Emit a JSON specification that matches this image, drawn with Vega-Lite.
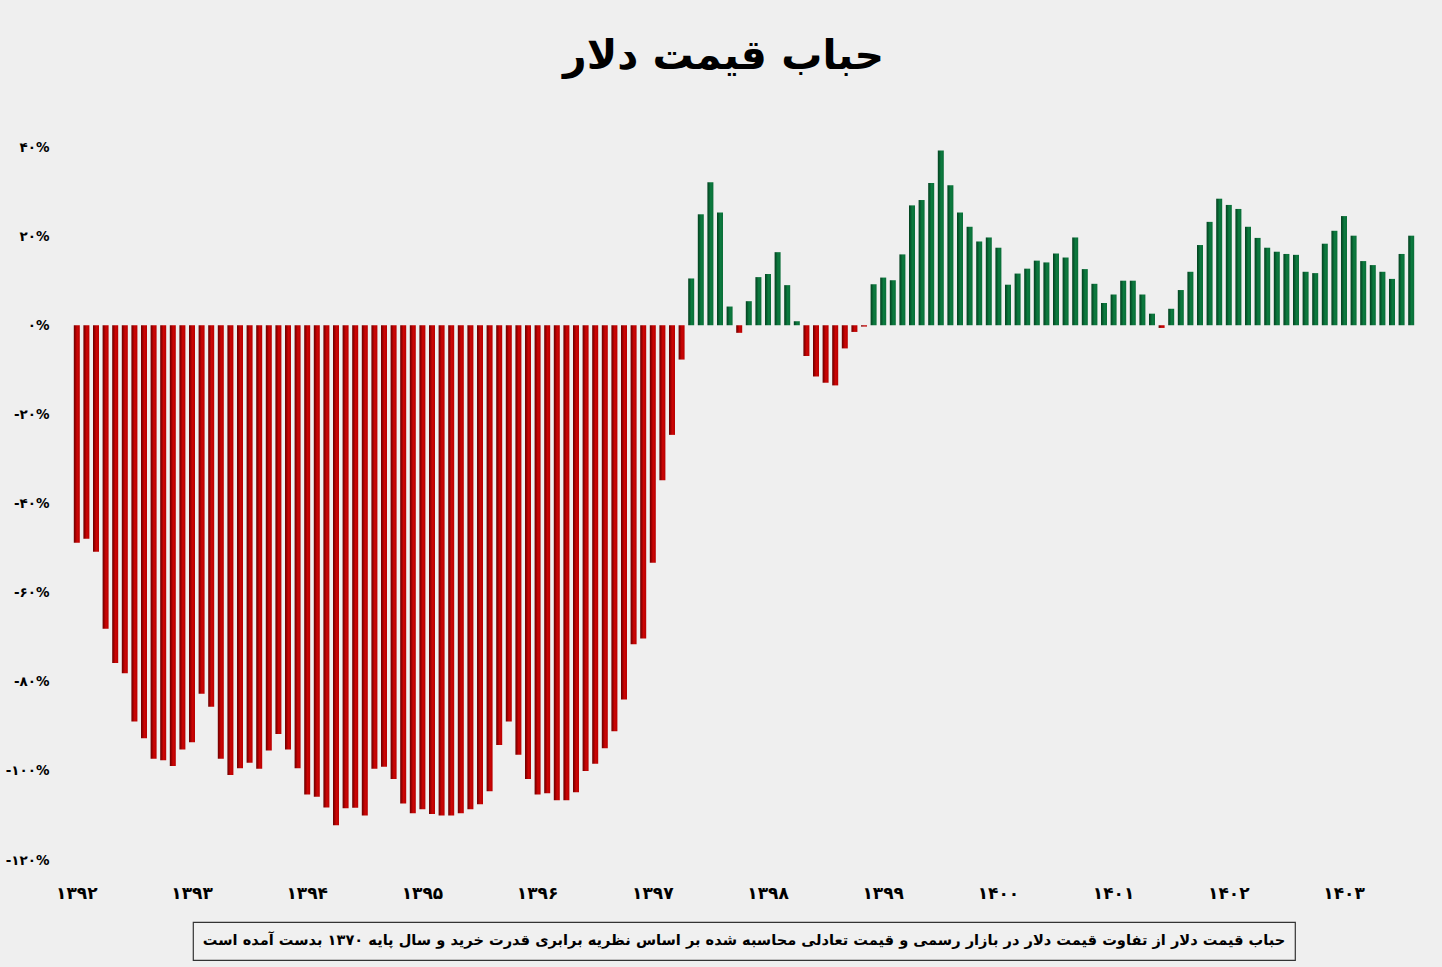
{
"$schema": "https://vega.github.io/schema/vega-lite/v6.json",
"autosize": {"type": "pad"},
"padding": {"left": 5, "top": 36, "right": 29, "bottom": 9},
"background": "#efefef",
"title": {"text": "حباب قیمت دلار", "font": "DejaVu Sans", "fontSize": 41, "fontWeight": "bold", "color": "#000000", "anchor": "middle", "offset": 62, "dx": 13},
"config": {"view": {"stroke": null}, "font": "DejaVu Sans"},
"spacing": 62,
"bounds": "flush",
"center": true,
"vconcat": [
{
"width": 1344,
"height": 713,
"data": {"values": [
{"t":"1392-01","v":-48.8},{"t":"1392-02","v":-47.9},{"t":"1392-03","v":-50.8},{"t":"1392-04","v":-68.1},{"t":"1392-05","v":-75.8},{"t":"1392-06","v":-78.1},{"t":"1392-07","v":-88.9},{"t":"1392-08","v":-92.7},{"t":"1392-09","v":-97.3},{"t":"1392-10","v":-97.6},{"t":"1392-11","v":-98.9},{"t":"1392-12","v":-95.2},
{"t":"1393-01","v":-93.6},{"t":"1393-02","v":-82.7},{"t":"1393-03","v":-85.6},{"t":"1393-04","v":-97.3},{"t":"1393-05","v":-100.9},{"t":"1393-06","v":-99.4},{"t":"1393-07","v":-98.2},{"t":"1393-08","v":-99.5},{"t":"1393-09","v":-95.4},{"t":"1393-10","v":-91.7},{"t":"1393-11","v":-95.2},{"t":"1393-12","v":-99.4},
{"t":"1394-01","v":-105.3},{"t":"1394-02","v":-105.8},{"t":"1394-03","v":-108.2},{"t":"1394-04","v":-112.2},{"t":"1394-05","v":-108.4},{"t":"1394-06","v":-108.3},{"t":"1394-07","v":-110.0},{"t":"1394-08","v":-99.5},{"t":"1394-09","v":-99.1},{"t":"1394-10","v":-101.8},{"t":"1394-11","v":-107.3},{"t":"1394-12","v":-109.5},
{"t":"1395-01","v":-108.6},{"t":"1395-02","v":-109.7},{"t":"1395-03","v":-110.0},{"t":"1395-04","v":-110.0},{"t":"1395-05","v":-109.5},{"t":"1395-06","v":-108.6},{"t":"1395-07","v":-107.5},{"t":"1395-08","v":-104.6},{"t":"1395-09","v":-94.2},{"t":"1395-10","v":-88.9},{"t":"1395-11","v":-96.4},{"t":"1395-12","v":-101.8},
{"t":"1396-01","v":-105.3},{"t":"1396-02","v":-105.0},{"t":"1396-03","v":-106.6},{"t":"1396-04","v":-106.6},{"t":"1396-05","v":-104.8},{"t":"1396-06","v":-100.0},{"t":"1396-07","v":-98.4},{"t":"1396-08","v":-94.9},{"t":"1396-09","v":-91.1},{"t":"1396-10","v":-84.0},{"t":"1396-11","v":-71.6},{"t":"1396-12","v":-70.3},
{"t":"1397-01","v":-53.3},{"t":"1397-02","v":-34.8},{"t":"1397-03","v":-24.6},{"t":"1397-04","v":-7.7},{"t":"1397-05","v":10.5},{"t":"1397-06","v":24.9},{"t":"1397-07","v":32.1},{"t":"1397-08","v":25.3},{"t":"1397-09","v":4.2},{"t":"1397-10","v":-1.7},{"t":"1397-11","v":5.4},{"t":"1397-12","v":10.8},
{"t":"1398-01","v":11.5},{"t":"1398-02","v":16.4},{"t":"1398-03","v":9.0},{"t":"1398-04","v":0.9},{"t":"1398-05","v":-6.9},{"t":"1398-06","v":-11.5},{"t":"1398-07","v":-12.9},{"t":"1398-08","v":-13.5},{"t":"1398-09","v":-5.2},{"t":"1398-10","v":-1.5},{"t":"1398-11","v":-0.3},{"t":"1398-12","v":9.2},
{"t":"1399-01","v":10.7},{"t":"1399-02","v":10.1},{"t":"1399-03","v":15.9},{"t":"1399-04","v":26.9},{"t":"1399-05","v":28.1},{"t":"1399-06","v":31.9},{"t":"1399-07","v":39.2},{"t":"1399-08","v":31.4},{"t":"1399-09","v":25.3},{"t":"1399-10","v":22.1},{"t":"1399-11","v":18.8},{"t":"1399-12","v":19.7},
{"t":"1400-01","v":17.4},{"t":"1400-02","v":9.1},{"t":"1400-03","v":11.6},{"t":"1400-04","v":12.7},{"t":"1400-05","v":14.5},{"t":"1400-06","v":14.1},{"t":"1400-07","v":16.1},{"t":"1400-08","v":15.2},{"t":"1400-09","v":19.7},{"t":"1400-10","v":12.6},{"t":"1400-11","v":9.3},{"t":"1400-12","v":5.0},
{"t":"1401-01","v":6.9},{"t":"1401-02","v":10.0},{"t":"1401-03","v":10.0},{"t":"1401-04","v":6.9},{"t":"1401-05","v":2.6},{"t":"1401-06","v":-0.6},{"t":"1401-07","v":3.7},{"t":"1401-08","v":7.9},{"t":"1401-09","v":12.0},{"t":"1401-10","v":18.0},{"t":"1401-11","v":23.2},{"t":"1401-12","v":28.4},
{"t":"1402-01","v":27.0},{"t":"1402-02","v":26.1},{"t":"1402-03","v":22.1},{"t":"1402-04","v":19.6},{"t":"1402-05","v":17.4},{"t":"1402-06","v":16.5},{"t":"1402-07","v":16.0},{"t":"1402-08","v":15.8},{"t":"1402-09","v":12.0},{"t":"1402-10","v":11.7},{"t":"1402-11","v":18.3},{"t":"1402-12","v":21.2},
{"t":"1403-01","v":24.5},{"t":"1403-02","v":20.1},{"t":"1403-03","v":14.4},{"t":"1403-04","v":13.5},{"t":"1403-05","v":12.0},{"t":"1403-06","v":10.4},{"t":"1403-07","v":16.0},{"t":"1403-08","v":20.1}
]},
"encoding": {
"x": {"field": "t", "type": "ordinal", "scale": {"paddingInner": 0.375, "paddingOuter": 0.1875},
"axis": {"title": null, "values": ["1392-01","1393-01","1394-01","1395-01","1396-01","1397-01","1398-01","1399-01","1400-01","1401-01","1402-01","1403-01"],
"labelExpr": "replace(replace(replace(replace(replace(replace(replace(replace(replace(replace(slice(datum.value,0,4),regexp('0','g'),'۰'),regexp('1','g'),'۱'),regexp('2','g'),'۲'),regexp('3','g'),'۳'),regexp('4','g'),'۴'),regexp('5','g'),'۵'),regexp('6','g'),'۶'),regexp('7','g'),'۷'),regexp('8','g'),'۸'),regexp('9','g'),'۹')",
"labelAngle": 0, "ticks": false, "domain": false, "grid": false, "labelFont": "DejaVu Sans", "labelFontSize": 17, "labelFontWeight": "bold", "labelColor": "#000000", "labelPadding": 25}},
"y": {"field": "v", "type": "quantitative", "scale": {"domain": [-120, 40], "nice": false},
"axis": {"title": null, "values": [-120,-100,-80,-60,-40,-20,0,20,40],
"labelExpr": "(datum.value < 0 ? '-' : '') + replace(replace(replace(replace(replace(replace(replace(replace(replace(replace(format(abs(datum.value),'d'),regexp('0','g'),'۰'),regexp('1','g'),'۱'),regexp('2','g'),'۲'),regexp('3','g'),'۳'),regexp('4','g'),'۴'),regexp('5','g'),'۵'),regexp('6','g'),'۶'),regexp('7','g'),'۷'),regexp('8','g'),'۸'),regexp('9','g'),'۹') + '%'",
"ticks": false, "domain": false, "grid": false, "labelFont": "DejaVu Sans", "labelFontSize": 13.5, "labelFontWeight": "bold", "labelColor": "#000000", "labelPadding": 23}}
},
"layer": [
{"transform": [{"filter": "datum.v < 0"}],
"mark": {"type": "bar", "color": {"gradient": "linear", "x1": 0, "y1": 0, "x2": 1, "y2": 0, "stops": [{"offset": 0, "color": "#6a0000"}, {"offset": 0.3, "color": "#a00000"}, {"offset": 0.55, "color": "#cc0505"}, {"offset": 1, "color": "#b80000"}]}}},
{"transform": [{"filter": "datum.v >= 0"}],
"mark": {"type": "bar", "color": {"gradient": "linear", "x1": 0, "y1": 0, "x2": 1, "y2": 0, "stops": [{"offset": 0, "color": "#03401f"}, {"offset": 0.3, "color": "#075f30"}, {"offset": 0.55, "color": "#0c7b3f"}, {"offset": 1, "color": "#0a6e38"}]}}}
]
},
{
"width": 1102,
"height": 38,
"view": {"stroke": "#333333", "strokeWidth": 1.2, "fill": "#f0f0f0"},
"data": {"values": [{"txt": "حباب قیمت دلار از تفاوت قیمت دلار در بازار رسمی و قیمت تعادلی محاسبه شده بر اساس نظریه برابری قدرت خرید و سال پایه ۱۳۷۰ بدست آمده است"}]},
"mark": {"type": "text", "font": "DejaVu Sans", "fontSize": 14.6, "fontWeight": "bold", "color": "#000000"},
"encoding": {"text": {"field": "txt"}}
}
]
}
